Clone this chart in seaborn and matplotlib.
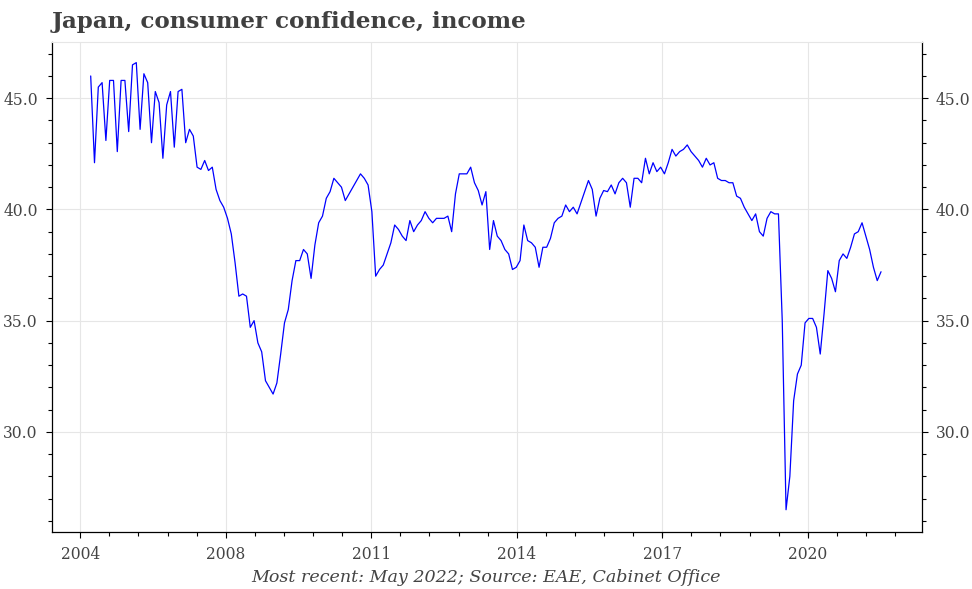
import numpy as np
import pandas as pd
import matplotlib
matplotlib.use('Agg')
import matplotlib.pyplot as plt
import seaborn as sns
from matplotlib.ticker import FixedLocator, MultipleLocator, FormatStrFormatter

# monthly income sub-index, Jan 2005 .. May 2022
start_year = 2005
income = [
    46.0, 42.1, 45.5, 45.7, 43.1, 45.8, 45.8, 42.6, 45.8, 45.8, 43.5, 46.5,   # 2005
    46.6, 43.6, 46.1, 45.7, 43.0, 45.3, 44.8, 42.3, 44.7, 45.3, 42.8, 45.3,   # 2006
    45.4, 43.0, 43.6, 43.3, 41.9, 41.8, 42.2, 41.75, 41.9, 40.9, 40.4, 40.1,  # 2007
    39.6, 38.9, 37.6, 36.1, 36.2, 36.1, 34.7, 35.0, 34.0, 33.6, 32.3, 32.0,   # 2008
    31.7, 32.2, 33.5, 34.9, 35.5, 36.8, 37.7, 37.7, 38.2, 38.0, 36.9, 38.4,   # 2009
    39.4, 39.7, 40.5, 40.8, 41.4, 41.2, 41.0, 40.4, 40.7, 41.0, 41.3, 41.6,   # 2010
    41.4, 41.1, 39.9, 37.0, 37.3, 37.5, 38.0, 38.5, 39.3, 39.1, 38.8, 38.6,   # 2011
    39.5, 39.0, 39.3, 39.5, 39.9, 39.6, 39.4, 39.6, 39.6, 39.6, 39.7, 39.0,   # 2012
    40.7, 41.6, 41.6, 41.6, 41.9, 41.2, 40.85, 40.2, 40.8, 38.2, 39.5, 38.8,  # 2013
    38.6, 38.2, 38.0, 37.3, 37.4, 37.7, 39.3, 38.6, 38.5, 38.3, 37.4, 38.3,   # 2014
    38.3, 38.7, 39.4, 39.6, 39.7, 40.2, 39.9, 40.1, 39.8, 40.3, 40.8, 41.3,   # 2015
    40.9, 39.7, 40.5, 40.85, 40.8, 41.1, 40.7, 41.2, 41.4, 41.2, 40.1, 41.4,  # 2016
    41.4, 41.2, 42.3, 41.6, 42.1, 41.7, 41.9, 41.6, 42.1, 42.7, 42.4, 42.6,   # 2017
    42.7, 42.9, 42.6, 42.4, 42.2, 41.9, 42.3, 42.0, 42.1, 41.4, 41.3, 41.3,   # 2018
    41.2, 41.2, 40.6, 40.5, 40.1, 39.8, 39.5, 39.8, 39.0, 38.8, 39.6, 39.9,   # 2019
    39.8, 39.8, 35.0, 26.5, 28.0, 31.4, 32.6, 33.0, 34.9, 35.1, 35.1, 34.7,   # 2020
    33.5, 35.3, 37.25, 36.9, 36.3, 37.7, 38.0, 37.8, 38.3, 38.9, 39.0, 39.4,  # 2021
    38.8, 38.2, 37.4, 36.8, 37.2,                                             # 2022
]

# x tick places and labels as they appear on the original chart
x_ticks = [2004.772, 2007.963, 2011.154, 2014.345, 2017.535, 2020.724]
x_labels = ['2004', '2008', '2011', '2014', '2017', '2020']

df = pd.DataFrame({'date': start_year + np.arange(len(income)) / 12,
                   'income': income})

sns.set_style('white')
plt.rcParams['font.family'] = ['DejaVu Serif']

fig = plt.figure(figsize=(9.72, 5.89), dpi=100)
ax = fig.add_axes([0.0532, 0.0968, 0.895, 0.832])

sns.lineplot(data=df, x='date', y='income', color='#0000ff', linewidth=0.9, ax=ax)

ax.set_xlim(2004.145, 2023.224)
ax.set_ylim(25.5, 47.53)

ax.xaxis.set_major_locator(FixedLocator(x_ticks))
ax.set_xticklabels(x_labels)
step = (x_ticks[1] - x_ticks[0]) / 5
ax.xaxis.set_minor_locator(FixedLocator([x_ticks[0] + step * k for k in range(-1, 31)]))

ax.yaxis.set_major_locator(MultipleLocator(5))
ax.yaxis.set_minor_locator(MultipleLocator(1))
ax.yaxis.set_major_formatter(FormatStrFormatter('%.1f'))

ax.grid(True, which='major', color='#e6e6e6', linewidth=0.8)
ax.set_axisbelow(True)

for side in ['left', 'bottom', 'right']:
    ax.spines[side].set_color('black')
    ax.spines[side].set_linewidth(0.9)
ax.spines['top'].set_color('#e6e6e6')
ax.spines['top'].set_linewidth(0.8)

ax.tick_params(axis='both', which='both', direction='out', color='black', labelcolor='#444444',
               labelsize=11.2)
ax.tick_params(axis='y', which='both', left=True, right=True, labelleft=True, labelright=True)
ax.tick_params(axis='x', which='both', bottom=True, top=False)
ax.tick_params(which='major', length=4, width=0.8, pad=6)
ax.tick_params(which='minor', length=3, width=0.8)

ax.set_xlabel('')
ax.set_ylabel('')

fig.text(0.0535, 0.962, 'Japan, consumer confidence, income', fontsize=16.6, fontweight='bold',
         color='#404040', ha='left', va='center')
fig.text(0.5005, 0.02, 'Most recent: May 2022; Source: EAE, Cabinet Office', fontsize=12.6,
         fontstyle='italic', color='#444444', ha='center', va='center')

fig.savefig('out.png', dpi=100)
